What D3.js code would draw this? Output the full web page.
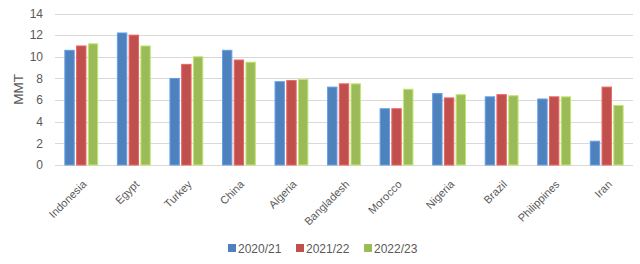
<!DOCTYPE html>
<html>
<head>
<meta charset="utf-8">
<script src="https://cdn.jsdelivr.net/npm/d3@7"></script>
<style>
  body { margin: 0; background: #fff; }
  text { font-family: "Liberation Sans", "Open Sans", sans-serif; fill: #595959; }
</style>
</head>
<body>
<svg id="chart"></svg>
<script>
var countries = ["Indonesia", "Egypt", "Turkey", "China", "Algeria", "Bangladesh", "Morocco", "Nigeria", "Brazil", "Philippines", "Iran"];
var seriesNames = ["2020/21", "2021/22", "2022/23"];
var v2020 = [10.6, 12.2, 8.0, 10.6, 7.7, 7.2, 5.2, 6.6, 6.3, 6.1, 2.2];
var v2021 = [11.0, 12.0, 9.3, 9.7, 7.8, 7.5, 5.2, 6.2, 6.5, 6.3, 7.2];
var v2022 = [11.2, 11.0, 10.0, 9.5, 7.9, 7.5, 7.0, 6.5, 6.4, 6.3, 5.5];
var yTicks = [0, 2, 4, 6, 8, 10, 12, 14];
var colors = ["#4F81BD", "#C0504D", "#9BBB59"];

var width = 640,
    height = 264;

var margin = {top: 13.5, right: 7, bottom: 99, left: 55};

var svg = d3.select("#chart")
    .attr("width", width)
    .attr("height", height);

var x = d3.scaleBand()
    .domain(countries)
    .range([margin.left, width - margin.right]);

var x1 = d3.scaleBand()
    .domain(seriesNames)
    .range([0, x.bandwidth()])
    .paddingInner(0.2)
    .paddingOuter(0.84);

var y = d3.scaleLinear()
    .domain([0, 14])
    .range([height - margin.bottom, margin.top]);

// gridlines
svg.append("g")
    .selectAll("line")
    .data(yTicks)
    .enter()
    .append("line")
    .attr("x1", margin.left)
    .attr("x2", width - margin.right)
    .attr("y1", function(d) { return Math.round(y(d)) + 0.5; })
    .attr("y2", function(d) { return Math.round(y(d)) + 0.5; })
    .attr("stroke", "#d9d9d9")
    .attr("stroke-width", 1);

// y axis labels
var yAxis = d3.axisLeft(y).tickValues(yTicks).tickSize(0).tickPadding(12);
var gy = svg.append("g")
    .attr("transform", "translate(" + margin.left + ",0)")
    .call(yAxis);
gy.select(".domain").remove();
gy.selectAll("text")
    .style("font-size", "12px")
    .attr("text-anchor", "end");

svg.append("text")
    .attr("transform", "translate(23," + y(7) + ") rotate(-90)")
    .attr("text-anchor", "middle")
    .style("font-size", "13.5px")
    .text("MMT");

var rows = countries.map(function(c, i) {
    return {country: c, values: [v2020[i], v2021[i], v2022[i]]};
});

var groups = svg.append("g")
    .selectAll("g")
    .data(rows)
    .enter()
    .append("g")
    .attr("transform", function(d) { return "translate(" + x(d.country) + ",0)"; });

groups.selectAll("rect")
    .data(function(d) { return d.values.map(function(v, j) { return {key: seriesNames[j], value: v, j: j}; }); })
    .enter()
    .append("rect")
    .attr("x", function(d) { return x1(d.key); })
    .attr("width", x1.bandwidth())
    .attr("y", function(d) { return y(d.value); })
    .attr("height", function(d) { return y(0) - y(d.value); })
    .attr("fill", function(d) { return colors[d.j]; })
    .attr("stroke", function(d) { return d3.rgb(colors[d.j]).brighter(0.6); })
    .attr("stroke-width", 1);

// x axis labels
var xAxis = d3.axisBottom(x).tickSize(0).tickPadding(0);
var gx = svg.append("g")
    .attr("transform", "translate(0," + y(0) + ")")
    .call(xAxis);
gx.select(".domain").remove();
gx.selectAll("text")
    .style("font-size", "11px")
    .attr("text-anchor", "end")
    .attr("y", 0)
    .attr("dy", "0")
    .attr("transform", "translate(6,20) rotate(-45)");

// legend
var legend = svg.append("g")
    .selectAll("g")
    .data(seriesNames)
    .enter()
    .append("g")
    .attr("transform", function(d, i) { return "translate(" + (228 + i * 68) + ",244)"; });

legend.append("rect")
    .attr("width", 8)
    .attr("height", 8)
    .attr("fill", function(d, i) { return colors[i]; });

legend.append("text")
    .attr("x", 10)
    .attr("y", 8.5)
    .style("font-size", "12px")
    .text(function(d) { return d; });
</script>
</body>
</html>
